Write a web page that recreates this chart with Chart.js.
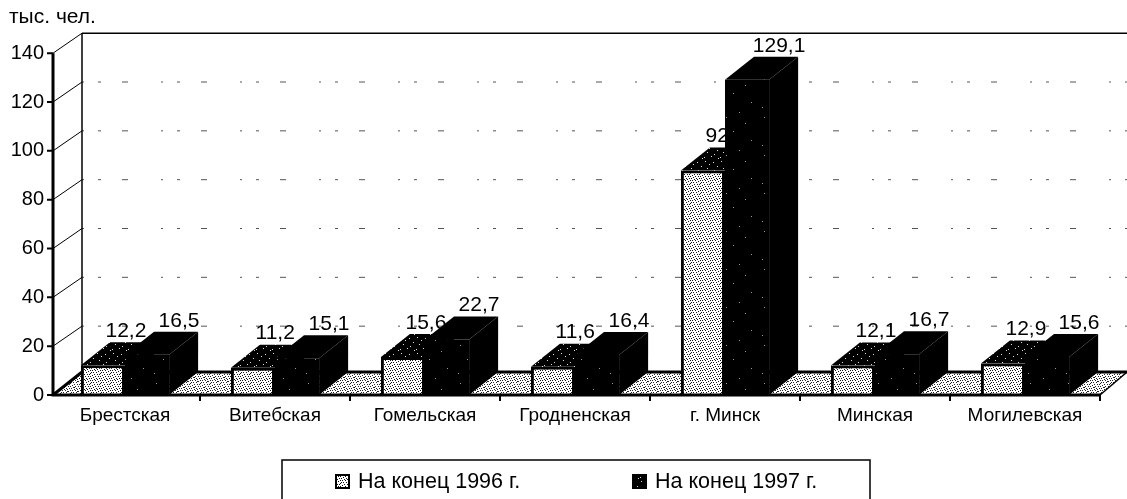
<!DOCTYPE html>
<html>
<head>
<meta charset="utf-8">
<title>тыс. чел.</title>
<script src="https://cdn.jsdelivr.net/npm/chart.js@4"></script>
<style>
  html, body { margin: 0; padding: 0; background: #fff; }
  canvas { display: block; }
</style>
</head>
<body>
<canvas id="chart" width="1127" height="499"></canvas>
<script>
const regions = ["Брестская", "Витебская", "Гомельская", "Гродненская", "г. Минск", "Минская", "Могилевская"];
const end1996 = [12.2, 11.2, 15.6, 11.6, 92, 12.1, 12.9];
const end1997 = [16.5, 15.1, 22.7, 16.4, 129.1, 16.7, 15.6];
const seriesNames = ["На конец 1996 г.", "На конец 1997 г."];
const unitLabel = "тыс. чел.";

const FONT = '"Liberation Sans", Arial, sans-serif';
const INK = "#000000";
const DEPTH_X = 29;
const BAR_DEPTH_Y = 23;
const WALL_DEPTH_Y = 20;
const AXIS_X = 53;
const RIGHT_EDGE = 1127;

// scanned-print stipple
function stipple(size, bg, fg, dots) {
  const tile = document.createElement("canvas");
  tile.width = size;
  tile.height = size;
  const c = tile.getContext("2d");
  c.fillStyle = bg;
  c.fillRect(0, 0, size, size);
  c.fillStyle = fg;
  dots.forEach(([x, y]) => c.fillRect(x, y, 1, 1));
  return c.createPattern(tile, "repeat");
}

const ctx = document.getElementById("chart").getContext("2d");
const lightDots = [[0,0],[2,0],[5,0],[8,1],[1,2],[3,2],[6,2],[0,3],[4,4],[7,4],[9,4],[2,5],[5,6],[8,6],[0,6],[3,7],[1,8],[6,8],[9,8],[4,9],[7,9]];
const midDots = [[1,1],[9,2],[5,4],[13,6],[3,8],[10,10],[7,12],[0,13],[14,14]];
const sparseDots = [[4,3],[23,9],[11,17],[29,26],[2,31],[17,36]];
const lightFill = stipple(10, "#ffffff", "#111111", lightDots);
const floorFill = stipple(10, "#ffffff", "#222222", lightDots.concat([[7,1],[4,7]]));
const midFill = stipple(16, "#000000", "#dddddd", midDots);
const sparseFill = stipple(38, "#000000", "#999999", sparseDots);

const threeD = {
  id: "threeD",
  beforeDatasetsDraw(chart) {
    const { ctx, scales: { x, y } } = chart;
    const zero = y.getPixelForValue(0);
    const backLeft = AXIS_X + DEPTH_X;
    ctx.save();

    // floor
    ctx.fillStyle = floorFill;
    ctx.beginPath();
    ctx.moveTo(AXIS_X, zero);
    ctx.lineTo(x.right, zero);
    ctx.lineTo(RIGHT_EDGE, zero - BAR_DEPTH_Y);
    ctx.lineTo(backLeft, zero - BAR_DEPTH_Y);
    ctx.closePath();
    ctx.fill();
    ctx.strokeStyle = INK;
    ctx.lineWidth = 3;
    ctx.beginPath();
    ctx.moveTo(backLeft, zero - BAR_DEPTH_Y);
    ctx.lineTo(RIGHT_EDGE, zero - BAR_DEPTH_Y);
    ctx.moveTo(AXIS_X, zero);
    ctx.lineTo(backLeft, zero - BAR_DEPTH_Y);
    ctx.stroke();
    ctx.lineWidth = 1.5;
    ctx.beginPath();
    ctx.moveTo(x.right, zero);
    ctx.lineTo(RIGHT_EDGE, zero - BAR_DEPTH_Y);
    ctx.stroke();

    // back wall
    y.ticks.forEach((t) => {
      if (t.value === 0) return;
      const py = y.getPixelForValue(t.value);
      ctx.strokeStyle = INK;
      ctx.lineWidth = 1;
      ctx.setLineDash([]);
      ctx.beginPath();
      ctx.moveTo(AXIS_X, py);
      ctx.lineTo(backLeft, py - WALL_DEPTH_Y);
      ctx.stroke();
      if (t.value === 140) {
        ctx.lineWidth = 1.5;
        ctx.beginPath();
        ctx.moveTo(backLeft, py - WALL_DEPTH_Y);
        ctx.lineTo(RIGHT_EDGE, py - WALL_DEPTH_Y);
        ctx.stroke();
      } else {
        ctx.strokeStyle = "#555";
        ctx.setLineDash([2, 14, 3, 21, 6, 33]);
        ctx.beginPath();
        ctx.moveTo(backLeft, py - WALL_DEPTH_Y);
        ctx.lineTo(RIGHT_EDGE, py - WALL_DEPTH_Y);
        ctx.stroke();
        ctx.setLineDash([]);
      }
    });
    ctx.strokeStyle = INK;
    ctx.lineWidth = 1.5;
    ctx.beginPath();
    ctx.moveTo(backLeft, y.getPixelForValue(140) - WALL_DEPTH_Y);
    ctx.lineTo(backLeft, zero - BAR_DEPTH_Y);
    ctx.stroke();

    // tops and sides of the bars, 1996 first so 1997 lies over it
    const tops = [midFill, INK];
    [0, 1].forEach((ds) => {
      chart.getDatasetMeta(ds).data.forEach((bar) => {
        const left = bar.x - bar.width / 2;
        const right = bar.x + bar.width / 2;
        ctx.fillStyle = tops[ds];
        ctx.beginPath();
        ctx.moveTo(left, bar.y);
        ctx.lineTo(right, bar.y);
        ctx.lineTo(right + DEPTH_X, bar.y - BAR_DEPTH_Y);
        ctx.lineTo(left + DEPTH_X, bar.y - BAR_DEPTH_Y);
        ctx.closePath();
        ctx.fill();
        ctx.fillStyle = INK;
        ctx.beginPath();
        ctx.moveTo(right, bar.y);
        ctx.lineTo(right + DEPTH_X, bar.y - BAR_DEPTH_Y);
        ctx.lineTo(right + DEPTH_X, zero - BAR_DEPTH_Y);
        ctx.lineTo(right, zero);
        ctx.closePath();
        ctx.fill();
      });
    });
    ctx.restore();
  },
  afterDatasetsDraw(chart) {
    const { ctx, scales: { x, y } } = chart;
    const zero = y.getPixelForValue(0);
    ctx.save();

    // axes with their tick marks
    ctx.strokeStyle = INK;
    ctx.lineWidth = 3;
    ctx.beginPath();
    ctx.moveTo(AXIS_X, y.getPixelForValue(140));
    ctx.lineTo(AXIS_X, zero);
    ctx.lineTo(x.right, zero);
    ctx.stroke();
    ctx.lineWidth = 2;
    ctx.beginPath();
    y.ticks.forEach((t) => {
      const py = y.getPixelForValue(t.value);
      ctx.moveTo(AXIS_X - 6, py);
      ctx.lineTo(AXIS_X, py);
    });
    regions.forEach((r, i) => {
      const px = x.getPixelForValue(i) + (x.getPixelForValue(1) - x.getPixelForValue(0)) / 2;
      ctx.moveTo(px, zero);
      ctx.lineTo(px, zero + 6);
    });
    ctx.stroke();

    // value labels sit over the back edge of each bar top
    ctx.font = "21px " + FONT;
    ctx.fillStyle = INK;
    ctx.textAlign = "left";
    ctx.textBaseline = "middle";
    const slotWidth = ctx.measureText("00,0").width;
    const labelShift = [23, 32];
    [0, 1].forEach((ds) => {
      chart.getDatasetMeta(ds).data.forEach((bar, i) => {
        const text = String(chart.data.datasets[ds].data[i]).replace(".", ",");
        const w = Math.max(ctx.measureText(text).width, slotWidth);
        ctx.fillText(text, bar.x + labelShift[ds] - w / 2, bar.y - BAR_DEPTH_Y - 11);
      });
    });

    // legend
    ctx.lineWidth = 1.5;
    ctx.beginPath();
    ctx.moveTo(282, 499);
    ctx.lineTo(282, 460);
    ctx.lineTo(870, 460);
    ctx.lineTo(870, 499);
    ctx.stroke();
    const swatchX = [336, 633];
    const swatchFill = [lightFill, midFill];
    ctx.font = "21.5px " + FONT;
    seriesNames.forEach((name, i) => {
      ctx.fillStyle = swatchFill[i];
      ctx.fillRect(swatchX[i], 475, 13, 13);
      ctx.lineWidth = 2;
      ctx.strokeRect(swatchX[i], 475, 13, 13);
      ctx.fillStyle = INK;
      ctx.fillText(name, swatchX[i] + 22, 482);
    });
    ctx.restore();
  },
};

new Chart(ctx, {
  type: "bar",
  data: {
    labels: regions,
    datasets: [
      {
        label: seriesNames[0],
        data: end1996,
        backgroundColor: lightFill,
        borderColor: INK,
        borderWidth: 3,
      },
      {
        label: seriesNames[1],
        data: end1997,
        backgroundColor: sparseFill,
        borderColor: INK,
        borderWidth: 0,
      },
    ],
  },
  options: {
    responsive: false,
    animation: false,
    layout: { padding: { left: 9, right: 27, top: 0, bottom: 0 } },
    datasets: { bar: { barPercentage: 1, categoryPercentage: 0.588 } },
    scales: {
      x: {
        grid: { display: false, drawTicks: false },
        border: { display: false },
        ticks: { color: INK, font: { family: FONT, size: 19 }, padding: 9, maxRotation: 0, autoSkip: false },
        afterFit: (scale) => { scale.height = 104; },
      },
      y: {
        min: 0,
        max: 140,
        grid: { display: false, drawTicks: false },
        border: { display: false },
        ticks: { stepSize: 20, color: INK, font: { family: FONT, size: 20 }, padding: 6 },
        afterFit: (scale) => { scale.width = 41; },
      },
    },
    plugins: {
      legend: { display: false },
      tooltip: { enabled: false },
      title: {
        display: true,
        text: unitLabel,
        align: "start",
        color: INK,
        font: { family: FONT, size: 21, weight: "normal" },
        padding: { top: 5, bottom: 23 },
      },
    },
  },
  plugins: [threeD],
});
</script>
</body>
</html>
